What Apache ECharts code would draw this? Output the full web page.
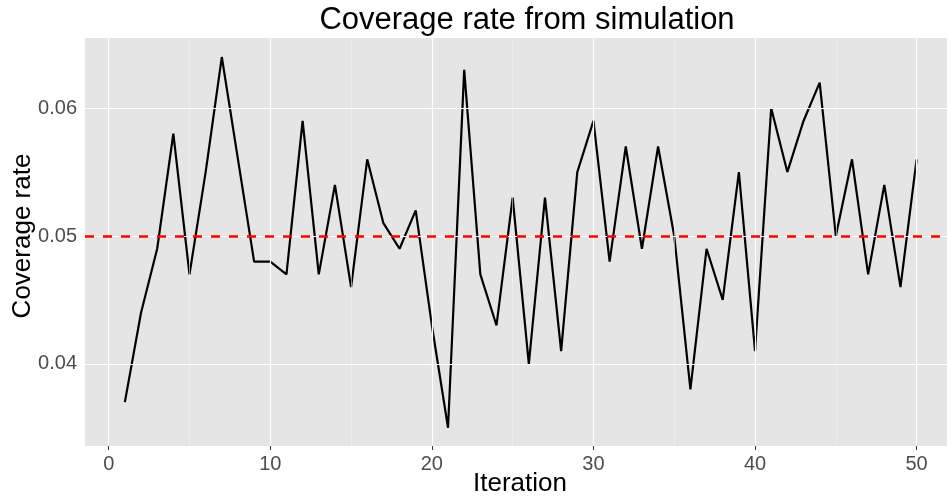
<!DOCTYPE html>
<html>
<head>
<meta charset="utf-8">
<script src="https://cdn.jsdelivr.net/npm/echarts@6/dist/echarts.min.js"></script>
<style>
  html, body { margin: 0; padding: 0; background: #ffffff; }
  #chart { width: 947px; height: 499px; }
</style>
</head>
<body>
<div id="chart"></div>
<script>
// ---- data ----
const iterations = [1,2,3,4,5,6,7,8,9,10,11,12,13,14,15,16,17,18,19,20,21,22,23,24,25,26,27,28,29,30,31,32,33,34,35,36,37,38,39,40,41,42,43,44,45,46,47,48,49,50];
const coverage = [0.037,0.044,0.049,0.058,0.047,0.055,0.064,0.056,0.048,0.048,
                  0.047,0.059,0.047,0.054,0.046,0.056,0.051,0.049,0.052,0.043,
                  0.035,0.063,0.047,0.043,0.053,0.040,0.053,0.041,0.055,0.059,
                  0.048,0.057,0.049,0.057,0.050,0.038,0.049,0.045,0.055,0.041,
                  0.060,0.055,0.059,0.062,0.050,0.056,0.047,0.054,0.046,0.056];
const nominalRate = 0.05;
const xTicks = [0, 10, 20, 30, 40, 50];
const xMinorTicks = [5, 15, 25, 35, 45];
const yTicks = [0.04, 0.05, 0.06];
const yMinorTicks = [0.035, 0.045, 0.055, 0.065];

const chart = echarts.init(document.getElementById('chart'), null, { renderer: 'canvas' });

const gridLines = [];
xMinorTicks.forEach(v => gridLines.push({ xAxis: v, lineStyle: { color: '#F2F2F2', width: 0.6, type: 'solid' } }));
yMinorTicks.forEach(v => gridLines.push({ yAxis: v, lineStyle: { color: '#F2F2F2', width: 0.6, type: 'solid' } }));
xTicks.forEach(v => gridLines.push({ xAxis: v, lineStyle: { color: '#FFFFFF', width: 1.2, type: 'solid' } }));
yTicks.forEach(v => gridLines.push({ yAxis: v, lineStyle: { color: '#FFFFFF', width: 1.2, type: 'solid' } }));

const option = {
  animation: false,
  backgroundColor: '#ffffff',
  title: {
    text: 'Coverage rate from simulation',
    left: 522,
    top: 0,
    textAlign: 'center',
    textStyle: { fontFamily: 'Liberation Sans, Arial, sans-serif', fontSize: 31, fontWeight: 'normal', color: '#000000' }
  },
  grid: {
    left: 85, right: 0, top: 38, bottom: 53,
    outerBoundsMode: 'none',
    containLabel: false,
    show: true, backgroundColor: '#E5E5E5', borderWidth: 0
  },
  xAxis: {
    type: 'value',
    min: -1.467,
    max: 51.88,
    name: 'Iteration',
    nameLocation: 'middle',
    nameGap: 25,
    nameMoveOverlap: false,
    nameTextStyle: { fontFamily: 'Liberation Sans, Arial, sans-serif', fontSize: 26, color: '#000000', padding: [0, 0, 0, 8] },
    axisLine: { show: false },
    splitLine: { show: false },
    axisTick: { show: true, customValues: xTicks, length: 4, lineStyle: { color: '#333333', width: 1 } },
    axisLabel: {
      customValues: xTicks,
      margin: 8,
      fontFamily: 'Liberation Sans, Arial, sans-serif', fontSize: 20, color: '#4D4D4D'
    }
  },
  yAxis: {
    type: 'value',
    min: 0.03357,
    max: 0.06549,
    name: 'Coverage rate',
    nameLocation: 'middle',
    nameGap: 49,
    nameMoveOverlap: false,
    nameTextStyle: { fontFamily: 'Liberation Sans, Arial, sans-serif', fontSize: 26, color: '#000000', padding: [0, 0, 0, 12] },
    axisLine: { show: false },
    splitLine: { show: false },
    axisTick: { show: true, customValues: yTicks, length: 4, lineStyle: { color: '#333333', width: 1 } },
    axisLabel: {
      customValues: yTicks,
      margin: 8,
      formatter: v => v.toFixed(2),
      fontFamily: 'Liberation Sans, Arial, sans-serif', fontSize: 20, color: '#4D4D4D'
    }
  },
  series: [
    {
      type: 'line',
      name: 'grid',
      data: [],
      silent: true,
      z: 1,
      markLine: {
        silent: true,
        symbol: 'none',
        label: { show: false },
        animation: false,
        data: gridLines
      }
    },
    {
      type: 'line',
      name: 'coverage',
      data: iterations.map((x, i) => [x, coverage[i]]),
      showSymbol: false,
      symbol: 'none',
      lineStyle: { color: '#000000', width: 2.2 },
      z: 3
    },
    {
      type: 'line',
      name: 'nominal',
      data: [],
      z: 4,
      markLine: {
        silent: true,
        symbol: 'none',
        label: { show: false },
        animation: false,
        data: [{ yAxis: nominalRate, lineStyle: { color: '#FF0000', width: 2.5, type: [9, 9] } }]
      }
    }
  ]
};
chart.setOption(option);
</script>
</body>
</html>
